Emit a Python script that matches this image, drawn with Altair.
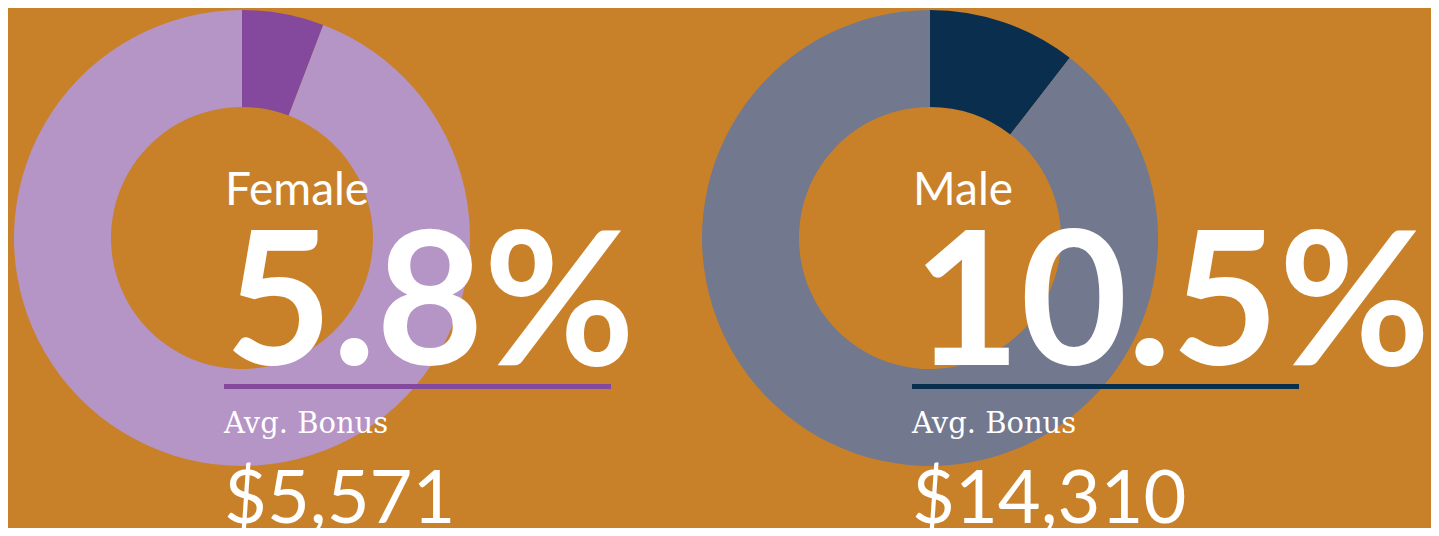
import altair as alt
import pandas as pd

# ---- data ----
genders = ["Female", "Male"]
bonus_pct = [5.8, 10.5]          # share receiving a bonus (%)
avg_bonus = [5571, 14310]        # average bonus ($)
dark_colors = ["#84489C", "#0A2F4E"]
light_colors = ["#B594C6", "#72788E"]

BG = "#C98129"
SANS = "Lato"
SERIF = "DejaVu Serif"

W, H = 1423, 520
CX = [234, 922]      # donut centres (layout)
CY = 230

# colour scale shared by both donuts
domain = []
rng = []
for i, g in enumerate(genders):
    domain += [g + " share", g + " rest"]
    rng += [dark_colors[i], light_colors[i]]


def panel(i):
    g = genders[i]
    arc_df = pd.DataFrame({
        "part": [g + " share", g + " rest"],
        "value": [bonus_pct[i], 100 - bonus_pct[i]],
        "order": [0, 1],
    })
    arcs = alt.Chart(arc_df).mark_arc(outerRadius=228, innerRadius=131).encode(
        theta=alt.Theta("value:Q", stack=True),
        order=alt.Order("order:Q"),
        color=alt.Color("part:N", scale=alt.Scale(domain=domain, range=rng), legend=None),
        x=alt.value(CX[i]),
        y=alt.value(CY),
    )

    info = pd.DataFrame({"gender": [g], "pct": [bonus_pct[i]], "bonus": [avg_bonus[i]]})
    base = alt.Chart(info).transform_calculate(
        pct_label="format(datum.pct, '.1f') + '%'",
        bonus_label="'$' + format(datum.bonus, ',')",
    )
    left = CX[i] - 17

    name = base.mark_text(align="left", baseline="alphabetic", font=SANS, fontSize=46,
                          color="white").encode(
        x=alt.value(left), y=alt.value(197), text="gender:N")
    big = base.mark_text(align="left", baseline="alphabetic", font=SANS, fontSize=185,
                         fontWeight="bold", color="white").encode(
        x=alt.value(left), y=alt.value(357), text="pct_label:N")
    line = base.mark_rule(color=dark_colors[i], strokeWidth=5).encode(
        x=alt.value(left - 1), x2=alt.value(left + 386), y=alt.value(378.5))
    sub = base.mark_text(align="left", baseline="alphabetic", font=SERIF, fontSize=29,
                         color="white").encode(
        x=alt.value(left - 1), y=alt.value(425), text=alt.value("Avg. Bonus"))
    money = base.mark_text(align="left", baseline="alphabetic", font=SANS, fontSize=74,
                           color="white").encode(
        x=alt.value(left - 1), y=alt.value(515), text="bonus_label:N")

    return [arcs, line, name, big, sub, money]


layers = panel(0) + panel(1)

chart = alt.layer(*layers).properties(
    width=W,
    height=H,
    background=BG,
    padding=0,
    autosize=alt.AutoSizeParams(type="none"),
).configure_view(
    stroke=None
)

chart.save("out.html", embed_options={"renderer": "svg", "actions": False})
